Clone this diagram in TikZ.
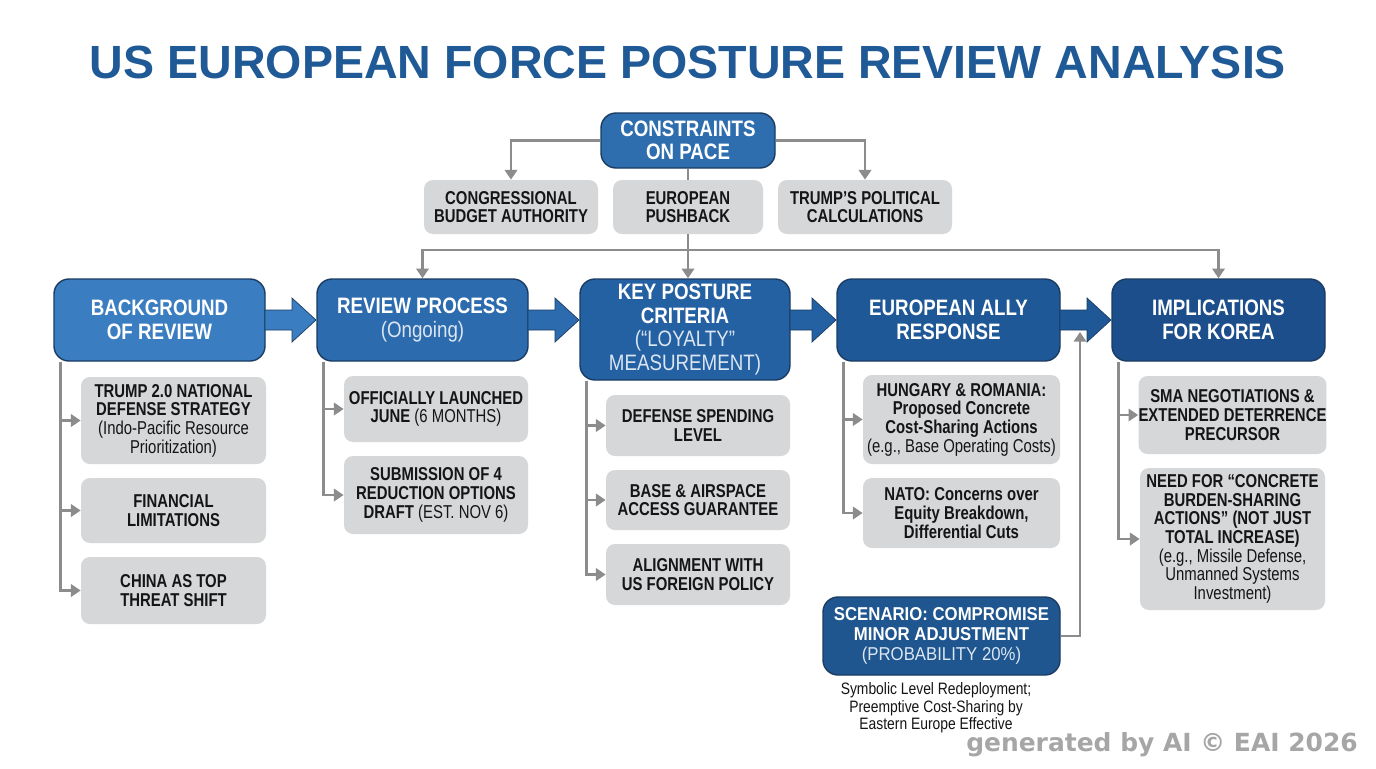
\documentclass[tikz,border=0pt]{standalone}
\usepackage{fontspec}
\setmainfont[FakeStretch=0.84]{Liberation Sans}
\newfontfamily\titlefont{Liberation Sans}
\newfontfamily\itemfont[FakeStretch=0.80]{Liberation Sans}
\newfontfamily\scnfont[FakeStretch=0.90]{Liberation Sans}
\newfontfamily\markfont{DejaVu Sans}
\usetikzlibrary{arrows.meta,calc}

\definecolor{titleblue}{HTML}{1F5A96}
\definecolor{blueA}{HTML}{3B7DC1}
\definecolor{blueB}{HTML}{2C6BAE}
\definecolor{blueC}{HTML}{2461A3}
\definecolor{blueD}{HTML}{1F5897}
\definecolor{blueE}{HTML}{1B4E8A}
\definecolor{conblue}{HTML}{2E6EAF}
\definecolor{scnblue}{HTML}{1F568F}
\definecolor{headborder}{HTML}{1B3C62}
\definecolor{subtxt}{HTML}{DCE6F2}
\definecolor{itemgray}{HTML}{D5D7D9}
\definecolor{itemtext}{HTML}{151515}
\definecolor{conngray}{HTML}{8C8C8C}

\tikzset{
  sz/.style 2 args={minimum width=#1*0.02cm, minimum height=#2*0.02cm},
  head/.style={draw=headborder, line width=0.8pt, rounded corners=0.3cm,
    inner sep=0pt, align=center, text=white,
    font=\fontsize{12.7}{13.4}\selectfont\bfseries},
  item/.style={fill=itemgray, rounded corners=0.18cm, inner sep=0pt,
    align=center, text=itemtext,
    font=\itemfont\fontsize{10.6}{10.6}\selectfont\bfseries},
  conn/.style={draw=conngray, line width=1.6pt,
    -{Triangle[length=5.5pt,width=7pt]}},
  line/.style={draw=conngray, line width=1.6pt},
}

\begin{document}
\begin{tikzpicture}[x=0.02cm, y=-0.02cm]
  \useasboundingbox[fill=white] (0,0) rectangle (1376,768);

  % title
  \node[text=titleblue, font=\titlefont\fontsize{26.5}{26.5}\selectfont\bfseries] (title) at (688,62)
    {US EUROPEAN FORCE POSTURE REVIEW ANALYSIS};

  % constraints
  \node[head, fill=conblue, sz={174}{55}] (con) at (688,140.5) {CONSTRAINTS\\ON PACE};
  \node[item, sz={174}{54}] (cba) at (511,207) {CONGRESSIONAL\\BUDGET AUTHORITY};
  \node[item, sz={150}{54}] (eup) at (688,207) {EUROPEAN\\PUSHBACK};
  \node[item, sz={174}{54}] (tpc) at (865,207) {TRUMP’S POLITICAL\\CALCULATIONS};

  % main flow
  \node[head, fill=blueA, sz={211}{82}] (bg) at (159.5,320) {BACKGROUND\\OF REVIEW};
  \node[head, fill=blueB, sz={211}{82}] (rev) at (422.5,320)
    {REVIEW PROCESS\\{\mdseries\color{subtxt}(Ongoing)}};
  \node[head, fill=blueC, sz={210}{101}] (key) at (685,329.5)
    {KEY POSTURE\\CRITERIA\\{\mdseries\color{subtxt}(“LOYALTY”}\\{\mdseries\color{subtxt}MEASUREMENT)}};
  \node[head, fill=blueD, sz={223}{82}] (eur) at (948.5,320) {EUROPEAN ALLY\\RESPONSE};
  \node[head, fill=blueE, sz={213}{82}] (imp) at (1218.5,320) {IMPLICATIONS\\FOR KOREA};

  % block arrows
  \foreach \xa/\xb/\c in {265/317/blueA, 528/580/blueB, 790/837/blueC, 1060/1112/blueD} {
    \filldraw[fill=\c, draw=headborder, line width=0.4pt]
      (\xa,310) -- (\xb-25,310) -- (\xb-25,298) -- (\xb-1,320)
      -- (\xb-25,342) -- (\xb-25,330) -- (\xa,330) -- cycle;
  }

  % background items
  \node[item, sz={185}{87}] (b1) at (173.5,420.5)
    {TRUMP 2.0 NATIONAL\\DEFENSE STRATEGY\\{\mdseries(Indo-Pacific Resource}\\{\mdseries Prioritization)}};
  \node[item, sz={185}{65}] (b2) at (173.5,510.5) {FINANCIAL\\LIMITATIONS};
  \node[item, sz={185}{67}] (b3) at (173.5,590.5) {CHINA AS TOP\\THREAT SHIFT};

  % review items
  \node[item, sz={184}{66}] (r1) at (436,409)
    {OFFICIALLY LAUNCHED\\JUNE {\mdseries(6 MONTHS)}};
  \node[item, sz={184}{78}] (r2) at (436,495)
    {SUBMISSION OF 4\\REDUCTION OPTIONS\\DRAFT {\mdseries(EST. NOV 6)}};

  % criteria items
  \node[item, sz={184}{61}] (k1) at (698,425.5) {DEFENSE SPENDING\\LEVEL};
  \node[item, sz={184}{60}] (k2) at (698,500) {BASE \& AIRSPACE\\ACCESS GUARANTEE};
  \node[item, sz={184}{61}] (k3) at (698,574.5) {ALIGNMENT WITH\\US FOREIGN POLICY};

  % ally response items
  \node[item, sz={197}{89}] (e1) at (961.5,419.5)
    {HUNGARY \& ROMANIA:\\Proposed Concrete\\Cost-Sharing Actions\\{\mdseries(e.g., Base Operating Costs)}};
  \node[item, sz={197}{70}] (e2) at (961.5,513)
    {NATO: Concerns over\\Equity Breakdown,\\Differential Cuts};

  % korea items
  \node[item, sz={185}{78}] (i1) at (1232.5,415)
    {SMA NEGOTIATIONS \&\\EXTENDED DETERRENCE\\PRECURSOR};
  \node[item, sz={185}{142}] (i2) at (1232.5,539)
    {NEED FOR “CONCRETE\\BURDEN-SHARING\\ACTIONS” (NOT JUST\\TOTAL INCREASE)\\{\mdseries(e.g., Missile Defense,}\\{\mdseries Unmanned Systems}\\{\mdseries Investment)}};

  % scenario
  \node[head, fill=scnblue, sz={237}{78}, font=\scnfont\fontsize{10.6}{11.6}\selectfont\bfseries] (scn) at (941.5,636)
    {SCENARIO: COMPROMISE\\MINOR ADJUSTMENT\\{\mdseries\color{subtxt}(PROBABILITY 20\%)}};
  \node[align=center, inner sep=0pt, text=itemtext,
    font=\fontsize{9.4}{10}\selectfont] (scncap) at (936,708)
    {Symbolic Level Redeployment;\\Preemptive Cost-Sharing by\\Eastern Europe Effective};

  % connectors from constraints
  \draw[conn] (con.west) -| (cba.north);
  \draw[conn] (con.east) -| (tpc.north);
  \draw[line] (con.south) -- (eup.north);
  \coordinate (bus) at (688,250);
  \draw[line] (eup.south) -- (bus);
  \draw[conn] (bus) -| (rev.north);
  \draw[conn] (bus) -| (imp.north);
  \draw[conn] (bus) -- (bus |- key.north);

  % spines
  \foreach \h/\t in {bg/b1, bg/b2, bg/b3, rev/r1, rev/r2, key/k1, key/k2, key/k3,
                     eur/e1, eur/e2, imp/i1, imp/i2}
    \draw[conn] ([xshift=0.15cm]\h.south west) |- (\t.west);

  % scenario feedback
  \coordinate (fb) at (1080,332);
  \draw[conn] (scn.east) -| (fb);

  % watermark
  \node[text=black!35, font=\markfont\fontsize{14.2}{15}\selectfont\bfseries] (mark) at (1162,745)
    {generated by AI © EAI 2026};
\end{tikzpicture}
\end{document}
